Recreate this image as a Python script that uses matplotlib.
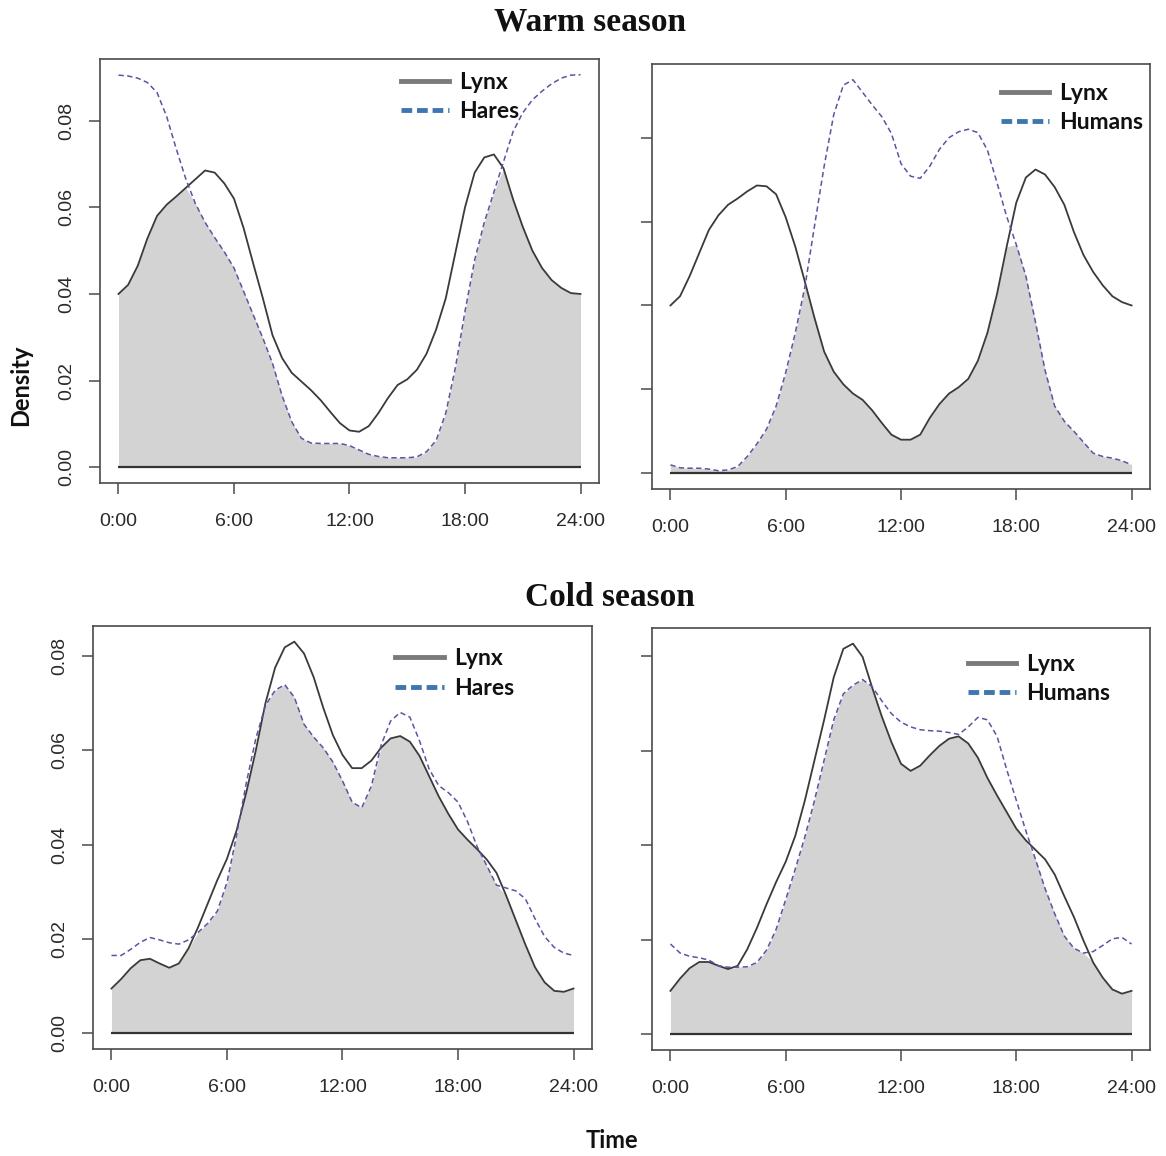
import numpy as np
import matplotlib
matplotlib.use("Agg")
import matplotlib.pyplot as plt
from matplotlib.lines import Line2D

# ---------------- data (density vs. hour of day) ----------------
hours = np.arange(0, 24.5, 0.5)
xtick_vals = [0, 6, 12, 18, 24]
xtick_labels = ["0:00", "6:00", "12:00", "18:00", "24:00"]
ytick_vals = [0.00, 0.02, 0.04, 0.06, 0.08]
ytick_labels = ["0.00", "0.02", "0.04", "0.06", "0.08"]

warm_lynx_a = [.0400, .0421, .0465, .0528, .0580, .0606, .0625, .0645, .0665, .0685,
               .0680, .0655, .0620, .0552, .0470, .0390, .0305, .0252, .0218, .0198,
               .0178, .0155, .0128, .0102, .0085, .0082, .0095, .0125, .0160, .0190,
               .0203, .0225, .0262, .0318, .0390, .0495, .0600, .0680, .0715, .0722,
               .0690, .0618, .0555, .0500, .0460, .0432, .0414, .0402, .0400]
warm_hares = [.0905, .0903, .0898, .0888, .0865, .0810, .0735, .0665, .0608, .0565,
              .0530, .0497, .0460, .0406, .0352, .0298, .0240, .0165, .0105, .0067,
              .0056, .0055, .0055, .0055, .0050, .0040, .0030, .0025, .0022, .0022,
              .0022, .0024, .0036, .0062, .0125, .0230, .0360, .0478, .0565, .0635,
              .0705, .0775, .0818, .0848, .0868, .0885, .0898, .0905, .0906]
warm_lynx_b = [.0400, .0422, .0470, .0525, .0580, .0615, .0640, .0655, .0672, .0686,
               .0684, .0665, .0610, .0540, .0456, .0370, .0290, .0242, .0212, .0190,
               .0175, .0150, .0120, .0092, .0080, .0080, .0092, .0132, .0165, .0190,
               .0205, .0225, .0268, .0335, .0428, .0540, .0645, .0705, .0724, .0712,
               .0682, .0640, .0575, .0520, .0480, .0448, .0422, .0408, .0400]
warm_humans = [.0020, .0013, .0012, .0012, .0010, .0006, .0008, .0016, .0040, .0070,
               .0105, .0160, .0240, .0335, .0445, .0590, .0732, .0855, .0925, .0938,
               .0908, .0878, .0850, .0810, .0738, .0708, .0703, .0732, .0772, .0800,
               .0814, .0820, .0812, .0770, .0692, .0612, .0545, .0470, .0360, .0245,
               .0160, .0124, .0100, .0074, .0048, .0040, .0036, .0030, .0020]
cold_lynx_a = [.0095, .0115, .0138, .0155, .0158, .0148, .0139, .0148, .0180, .0225,
               .0275, .0325, .0370, .0430, .0510, .0600, .0700, .0775, .0818, .0830,
               .0805, .0755, .0690, .0632, .0590, .0562, .0562, .0578, .0605, .0625,
               .0630, .0618, .0588, .0545, .0502, .0465, .0432, .0410, .0390, .0368,
               .0340, .0292, .0240, .0188, .0140, .0108, .0090, .0088, .0095]
cold_hares = [.0165, .0165, .0178, .0193, .0203, .0198, .0192, .0189, .0198, .0214,
              .0233, .0259, .0320, .0420, .0530, .0625, .0695, .0727, .0739, .0712,
              .0655, .0628, .0605, .0575, .0535, .0490, .0478, .0524, .0610, .0662,
              .0680, .0670, .0620, .0560, .0525, .0510, .0490, .0448, .0395, .0355,
              .0314, .0308, .0302, .0285, .0243, .0205, .0182, .0170, .0165]
cold_lynx_b = [.0092, .0118, .0140, .0153, .0153, .0145, .0138, .0145, .0180, .0225,
               .0275, .0322, .0365, .0420, .0495, .0580, .0665, .0755, .0815, .0826,
               .0798, .0733, .0672, .0618, .0572, .0557, .0568, .0590, .0610, .0625,
               .0630, .0615, .0585, .0542, .0505, .0470, .0435, .0410, .0390, .0370,
               .0338, .0292, .0248, .0198, .0152, .0120, .0095, .0086, .0092]
cold_humans = [.0191, .0172, .0165, .0162, .0157, .0145, .0142, .0142, .0143, .0152,
               .0178, .0222, .0285, .0350, .0418, .0495, .0580, .0665, .0720, .0738,
               .0750, .0735, .0705, .0678, .0660, .0650, .0644, .0642, .0641, .0638,
               .0634, .0650, .0670, .0665, .0630, .0560, .0495, .0430, .0370, .0308,
               .0255, .0208, .0182, .0172, .0175, .0188, .0202, .0205, .0191]

# ---------------- style ----------------
W, H = 1166, 1156
fig = plt.figure(figsize=(W / 100, H / 100), dpi=100)

TICK_FONT = "Liberation Sans"
LEG_FONT = "Lato"
LYNX_C = "#3a3a3a"
OTHER_C = "#5656a4"
FILL_C = "#d3d3d3"
BOX_C = "#4a4a4a"


def px_rect(l, t, r, b):
    return [l / W, 1 - b / H, (r - l) / W, (b - t) / H]


panels = [
    (px_rect(100, 59, 599, 483), warm_lynx_a, warm_hares, "Hares", (0.603, 0.970), True),
    (px_rect(652, 64, 1150, 489), warm_lynx_b, warm_humans, "Humans", (0.700, 0.956), False),
    (px_rect(93, 626, 592, 1049), cold_lynx_a, cold_hares, "Hares", (0.606, 0.947), True),
    (px_rect(652, 628, 1150, 1050), cold_lynx_b, cold_humans, "Humans", (0.634, 0.939), False),
]

for rect, lynx, other, lab, leg_xy, show_ylab in panels:
    ax = fig.add_axes(rect)
    lynx = np.array(lynx)
    other = np.array(other)
    m = max(lynx.max(), other.max())
    ax.fill_between(hours, 0, np.minimum(lynx, other), color=FILL_C, lw=0, zorder=1)
    ax.hlines(0, hours[0], hours[-1], color="#333333", lw=1.6, zorder=2)
    ax.plot(hours, lynx, color=LYNX_C, lw=1.3, zorder=3, solid_joinstyle="round")
    ax.plot(hours, other, color=OTHER_C, lw=1.1, ls=(0, (3.5, 2.2)), zorder=3)
    ax.set_xlim(-0.96, 24.96)
    ax.set_ylim(-0.04 * m, 1.04 * m)
    ax.set_xticks(xtick_vals)
    ax.set_xticklabels(xtick_labels, fontname=TICK_FONT, fontsize=14, color="#2a2a2a")
    ax.set_yticks(ytick_vals)
    if show_ylab:
        ax.set_yticklabels(ytick_labels, fontname=TICK_FONT, fontsize=14, color="#2a2a2a",
                           rotation=90, va="center")
    else:
        ax.set_yticklabels([])
    for s in ax.spines.values():
        s.set_color(BOX_C)
        s.set_linewidth(1.2)
    ax.tick_params(axis="both", direction="out", length=8, width=1.1, color=BOX_C)
    ax.tick_params(axis="x", pad=13.5)
    ax.tick_params(axis="y", pad=9.5)

    handles = [Line2D([], [], color="#7a7a7a", lw=3.5),
               Line2D([], [], color="#3f76b0", lw=3.5, ls=(0, (2.2, 1.0)))]
    leg = ax.legend(handles, ["Lynx", lab], loc="upper left", bbox_to_anchor=leg_xy,
                    frameon=False, borderaxespad=0, borderpad=0, handlelength=2.1,
                    handletextpad=0.45, labelspacing=0.38,
                    prop={"family": LEG_FONT, "weight": "bold", "size": 16.5})
    for t in leg.get_texts():
        t.set_color("#111111")

fig.text(590 / W, 1 - 22 / H, "Warm season", ha="center", va="center",
         fontname="Liberation Serif", fontweight="bold", fontsize=24, color="#111111")
fig.text(610 / W, 1 - 597 / H, "Cold season", ha="center", va="center",
         fontname="Liberation Serif", fontweight="bold", fontsize=24, color="#111111")
fig.text(21 / W, 1 - 385 / H, "Density", ha="center", va="center", rotation=90,
         fontname=LEG_FONT, fontweight="bold", fontsize=17, color="#111111")
fig.text(612 / W, 1 - 1140 / H, "Time", ha="center", va="center",
         fontname=LEG_FONT, fontweight="bold", fontsize=17, color="#111111")

fig.savefig("out.png", dpi=100)
